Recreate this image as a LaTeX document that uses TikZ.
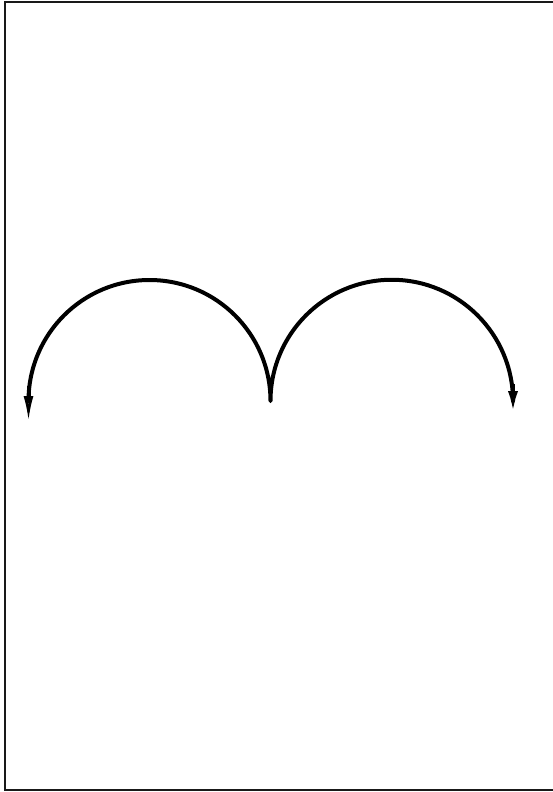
\documentclass[tikz,border=0pt]{standalone}
\usetikzlibrary{arrows.meta}
\begin{document}
\begin{tikzpicture}[x=1pt,y=-1pt,
  frame/.style={draw=black!90,line width=2pt},
  curve/.style={draw=black,line width=4pt,line cap=round,line join=round}]
\useasboundingbox (0,0) rectangle (552,792);
\draw[frame] (557,2.5) -- (5,2.5) -- (5,789.5) -- (557,789.5);
\coordinate (L) at (28.5,421);
\coordinate (R) at (513,414);
\coordinate (La) at (28.5,386);
\coordinate (Ra) at (513,384);
\draw[curve] (28.5,401) arc[start angle=180,end angle=360,radius=121]
  arc[start angle=180,end angle=360,radius=121.25];
\draw[curve,line cap=butt,-{Latex[open,length=25pt,width=10pt,line width=2.6pt]}] (La) -- (L);
\draw[curve,line cap=butt,-{Latex[length=23pt,width=10pt]}] (Ra) -- (R);
\end{tikzpicture}
\end{document}
